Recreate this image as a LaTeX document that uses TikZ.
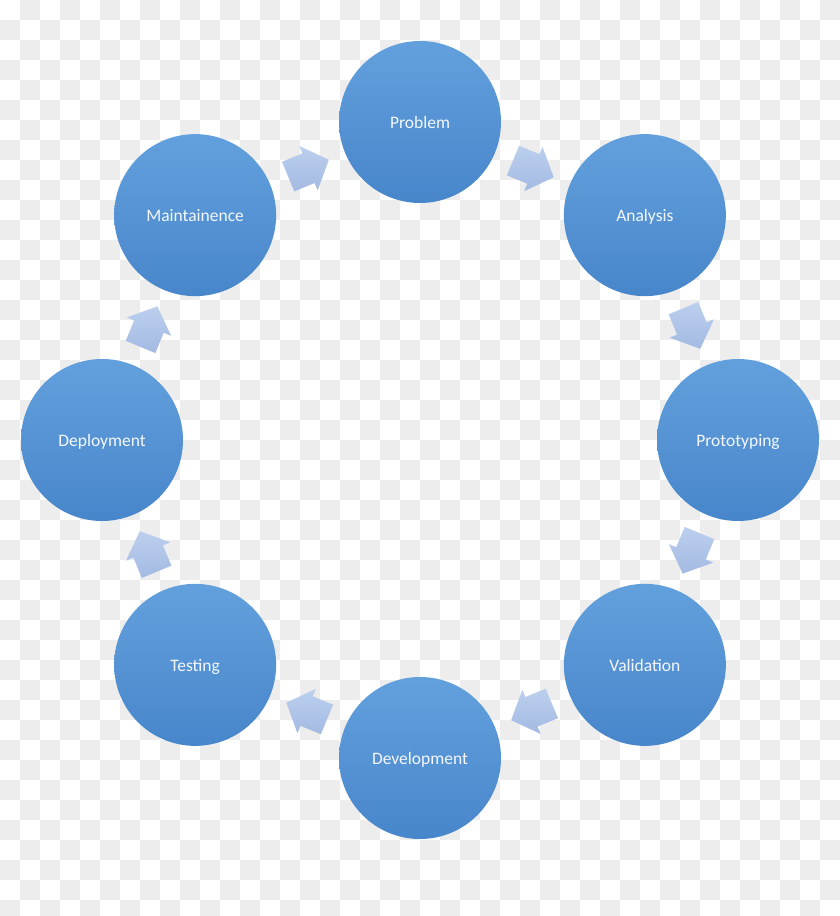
\documentclass[tikz,border=0pt]{standalone}
\usepackage{fontspec}
\setmainfont{Carlito}
\usetikzlibrary{calc}
\definecolor{chk}{HTML}{EDEDED}
\definecolor{bubtop}{HTML}{62A0DD}
\definecolor{bubbot}{HTML}{4886CB}
\definecolor{arrtop}{HTML}{BCCFEE}
\definecolor{arrbot}{HTML}{A3BAE2}
\definecolor{txt}{HTML}{F4F8FC}
\tikzset{
  bub/.style={circle, minimum size=162pt, inner sep=0pt, top color=bubtop, bottom color=bubbot,
    text=txt, font=\fontsize{17.5}{20}\selectfont, text height=12.5pt, text depth=0pt},
  blockarrow/.pic={
    \shade[top color=arrtop, bottom color=arrbot]
      (-21,-16) -- (1,-16) -- (1,-24) -- (23,0) -- (1,24) -- (1,16) -- (-21,16) -- cycle;
  }
}
\begin{document}
\begin{tikzpicture}[x=1pt,y=1pt]
\useasboundingbox (0,0) rectangle (840,916);
\fill[white] (0,0) rectangle (840,916);
\begin{scope}
\clip (0,0) rectangle (840,916);
\foreach \i in {0,...,41}{
  \foreach \j in {0,...,45}{
    \pgfmathtruncatemacro\chkodd{mod(\i+\j,2)}
    \ifnum\chkodd=1
      \fill[chk] (20*\i,916-20*\j) rectangle (20*\i+20,916-20*\j-20);
    \fi
  }
}
\end{scope}
\coordinate (C) at (420,476);
\node[bub] (prob) at ($(C)+(90:318)$) {Problem};
\node[bub] (anal) at ($(C)+(45:318)$) {Analysis};
\node[bub] (prot) at ($(C)+(0:318)$) {Prototyping};
\node[bub] (vali) at ($(C)+(-45:318)$) {Validation};
\node[bub] (deve) at ($(C)+(-90:318)$) {Development};
\node[bub] (test) at ($(C)+(-135:318)$) {Testing};
\node[bub] (depl) at ($(C)+(180:318)$) {Deployment};
\node[bub] (main) at ($(C)+(135:318)$) {Maintainence};
\pic[rotate=22.5] at ($(main)!0.5!(prob)$) {blockarrow};
\pic[rotate=-22.5] at ($(prob)!0.5!(anal)$) {blockarrow};
\pic[rotate=-67.5] at ($(anal)!0.5!(prot)$) {blockarrow};
\pic[rotate=-112.5] at ($(prot)!0.5!(vali)$) {blockarrow};
\pic[rotate=-157.5] at ($(vali)!0.5!(deve)$) {blockarrow};
\pic[rotate=157.5] at ($(deve)!0.5!(test)$) {blockarrow};
\pic[rotate=112.5] at ($(test)!0.5!(depl)$) {blockarrow};
\pic[rotate=67.5] at ($(depl)!0.5!(main)$) {blockarrow};
\end{tikzpicture}
\end{document}
